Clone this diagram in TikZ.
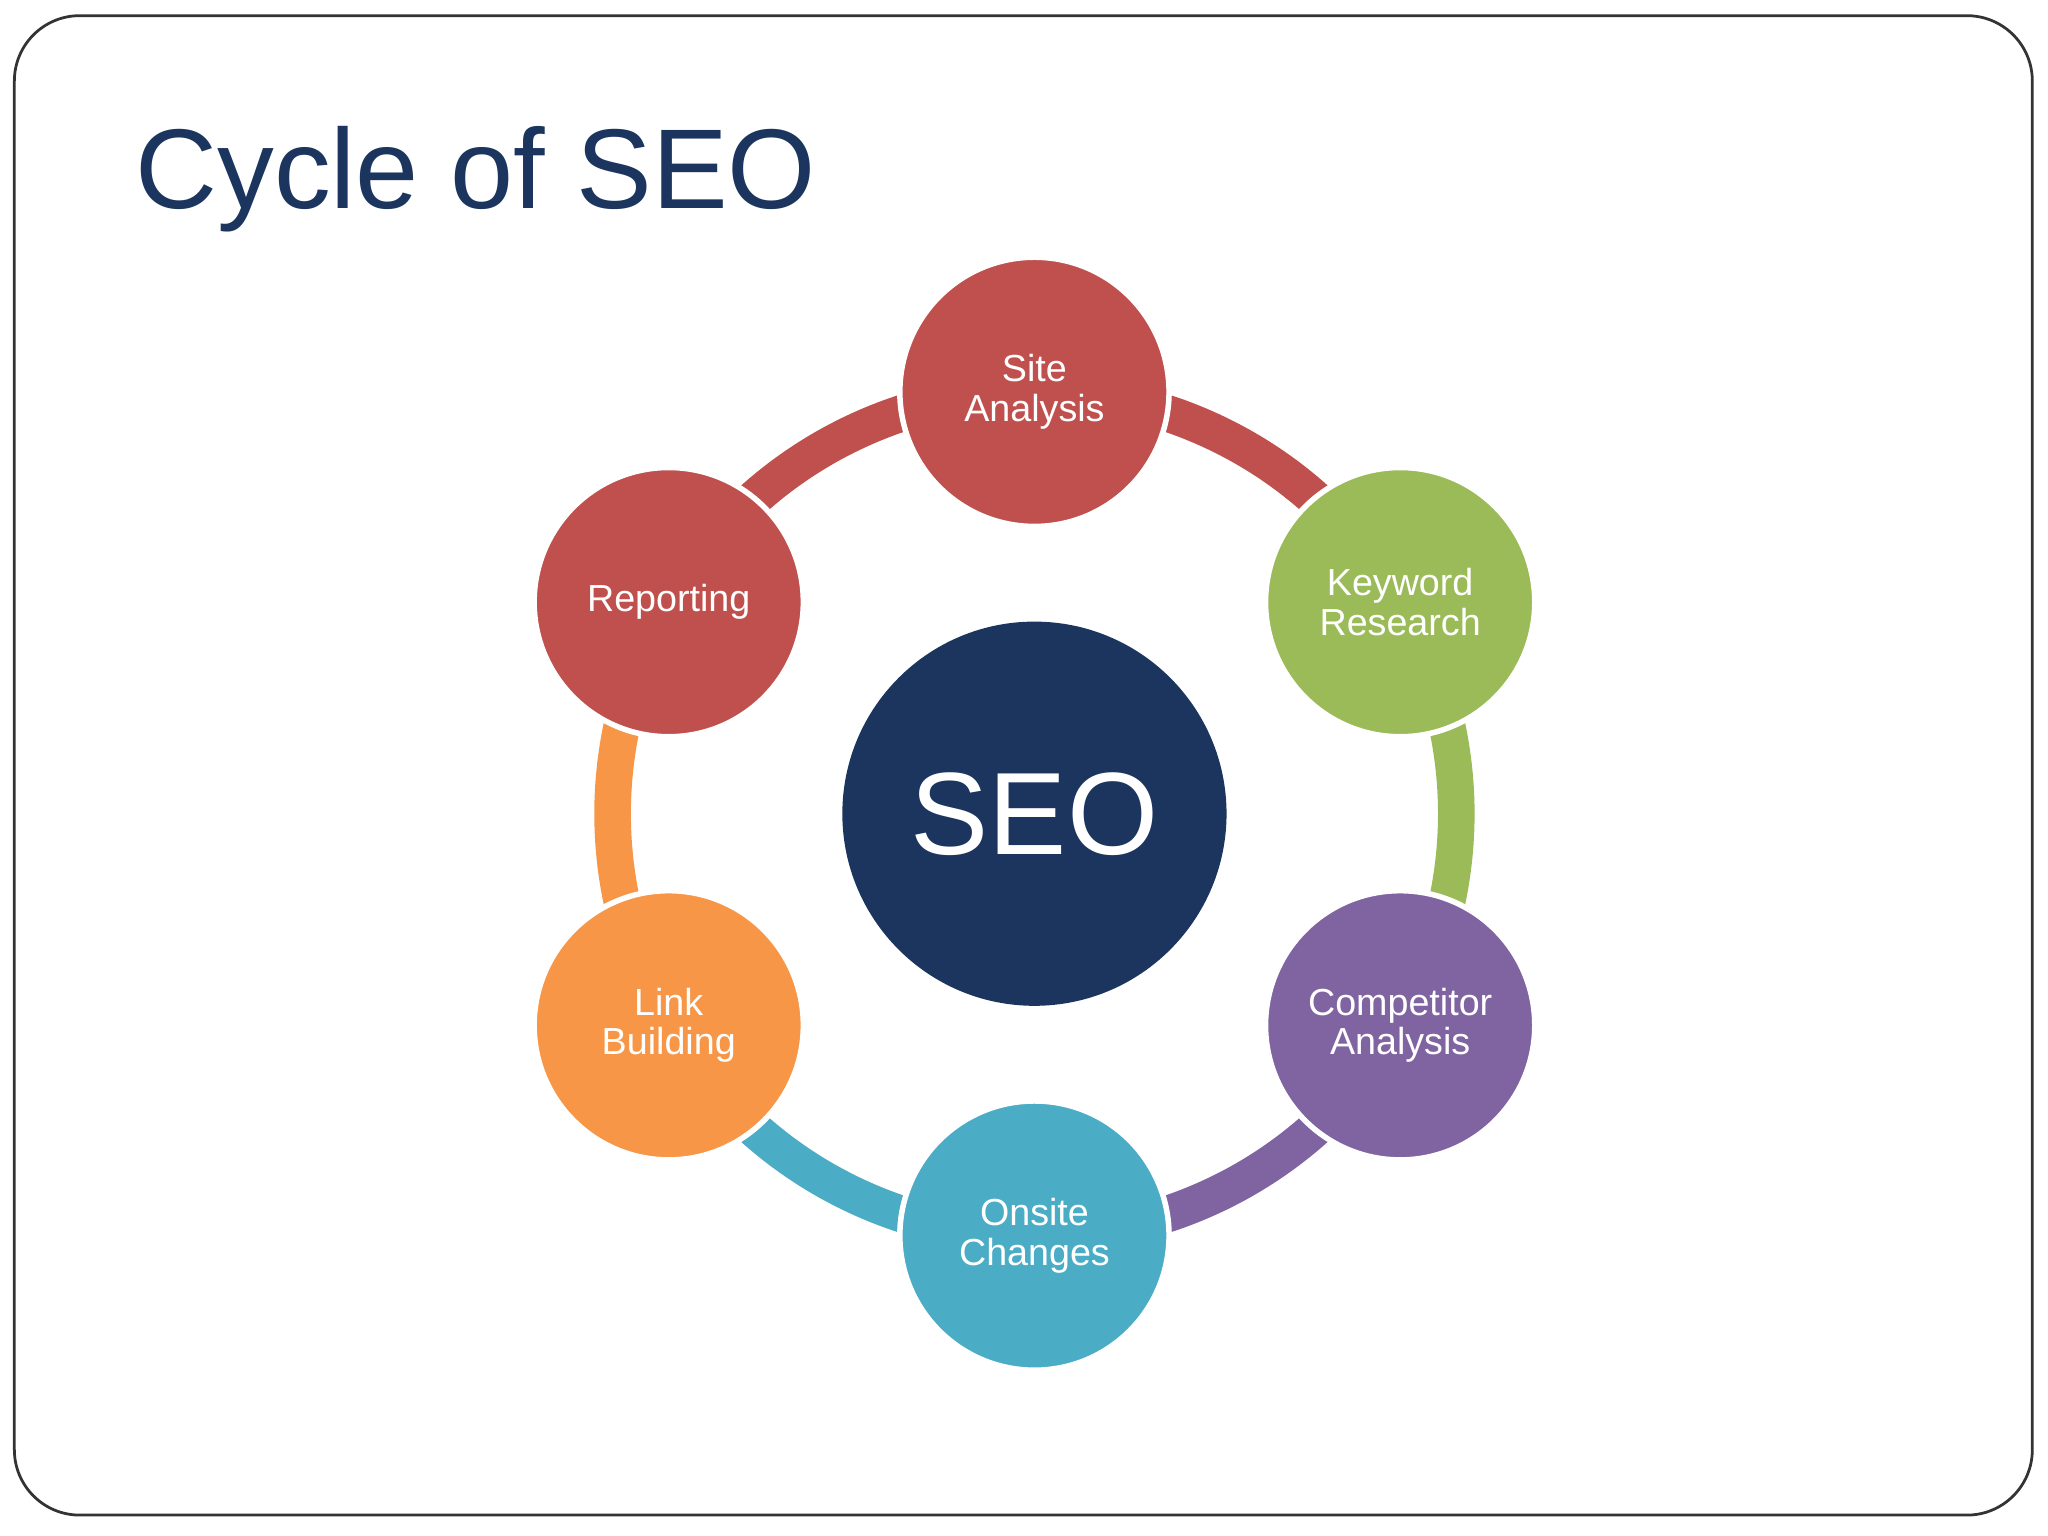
\documentclass[tikz,border=0pt]{standalone}
\usepackage{fontspec}
\setmainfont{Liberation Sans}
\definecolor{cred}{HTML}{C0504D}
\definecolor{cgreen}{HTML}{9BBB59}
\definecolor{cpurple}{HTML}{8064A2}
\definecolor{cblue}{HTML}{4BACC6}
\definecolor{corange}{HTML}{F79646}
\definecolor{cnavy}{HTML}{1B355E}
\begin{document}
\begin{tikzpicture}[x=0.01cm,y=-0.01cm,
  stepnode/.style={circle,minimum size=2.06cm,draw=white,line width=1.2pt,text=white,align=center,font=\fontsize{8.2pt}{8.6pt}\selectfont,inner sep=0pt},
  ring/.style={line width=0.28cm}]
\useasboundingbox (0,0) rectangle (1568,1176);
\fill[white] (0,0) rectangle (1568,1176);
\draw[line width=0.6pt,draw=black!80,rounded corners=0.5cm] (11,12) rectangle (1556,1160);
\node[anchor=base west,text=cnavy,font=\fontsize{24.7pt}{26pt}\selectfont,inner sep=0pt] (title) at (103,160) {Cycle of SEO};
\coordinate (c) at (792,623);
\foreach \a/\b/\col in {90/30/cred,30/-30/cgreen,-30/-90/cpurple,-90/-150/cblue,-150/-210/corange,150/90/cred}
  \draw[ring,\col] plot[domain=\a:\b,samples=40,smooth] ({792+323*cos(\x)},{623-323*sin(\x)});
\node[circle,fill=cnavy,minimum size=2.94cm,text=white,font=\fontsize{25.5pt}{26pt}\selectfont,inner sep=0pt] (seo) at (c) {SEO};
\node[stepnode,fill=cred] (site) at (792,300) {Site\\Analysis};
\node[stepnode,fill=cgreen] (kw) at (1072,461) {Keyword\\Research};
\node[stepnode,fill=cpurple] (comp) at (1072,785) {Competitor\\Analysis};
\node[stepnode,fill=cblue] (onsite) at (792,946) {Onsite\\Changes};
\node[stepnode,fill=corange] (link) at (512,785) {Link\\Building};
\node[stepnode,fill=cred] (rep) at (512,461) {Reporting};
\end{tikzpicture}
\end{document}
